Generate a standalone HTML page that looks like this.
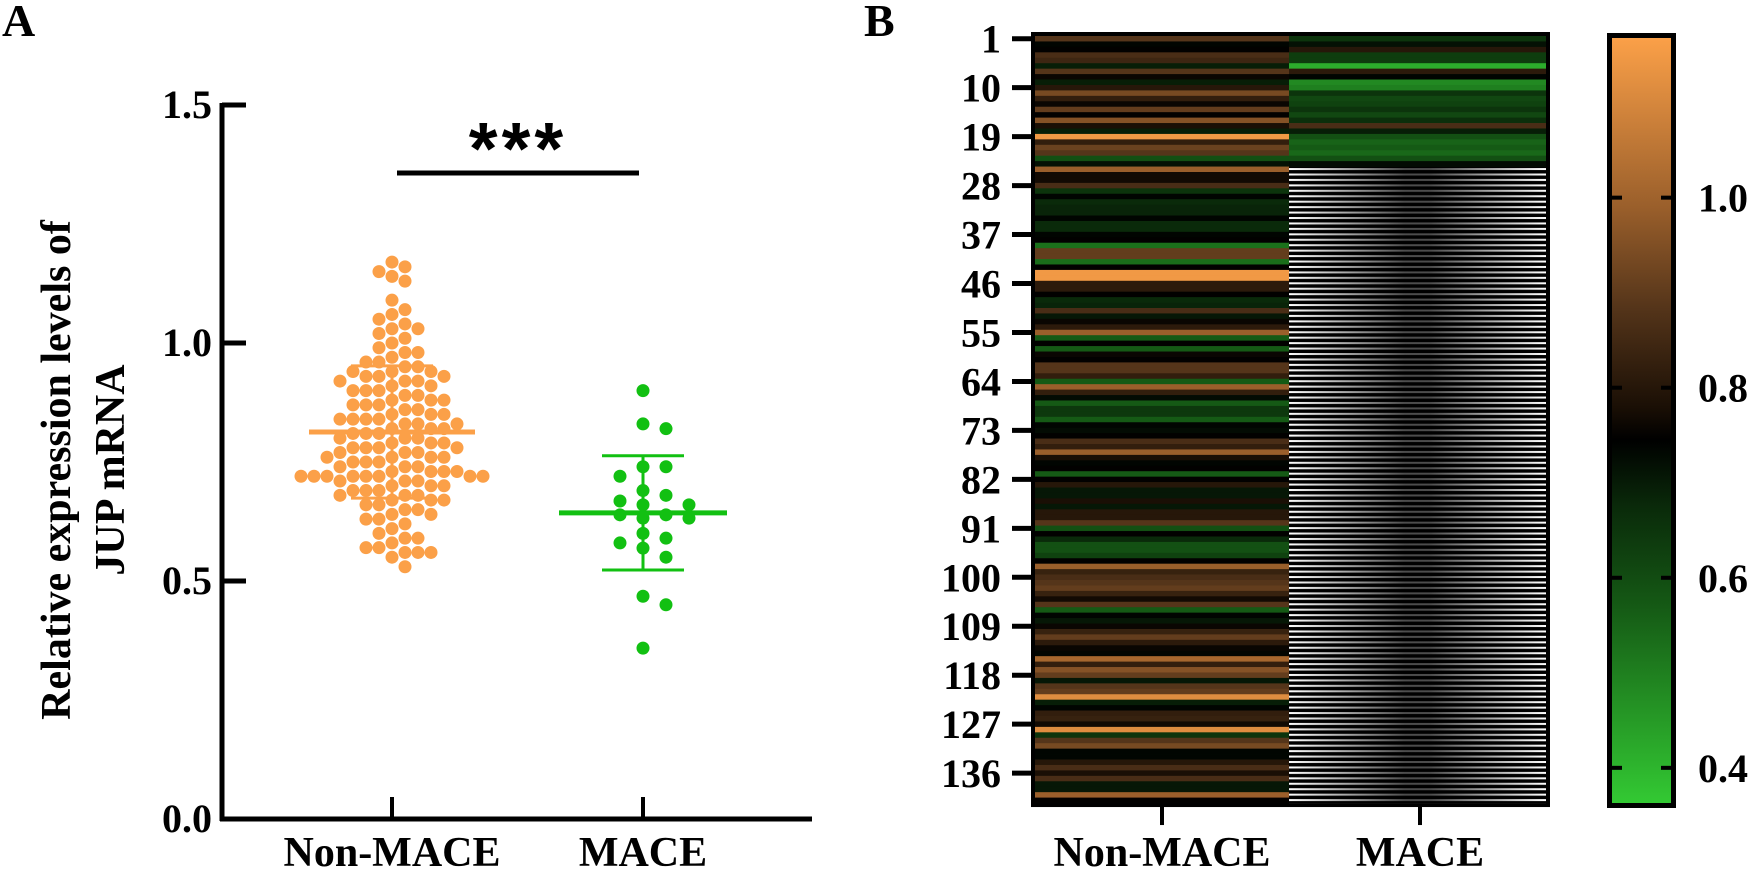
<!DOCTYPE html>
<html><head><meta charset="utf-8"><style>
html,body{margin:0;padding:0;background:#fff;}
svg{display:block;font-family:"Liberation Serif",serif;font-weight:bold;}
</style></head><body>
<svg id="fig" width="1750" height="870" viewBox="0 0 1750 870" xmlns="http://www.w3.org/2000/svg">
<defs>
<linearGradient id="cbar" x1="0" y1="0" x2="0" y2="1">
<stop offset="0" stop-color="#fba048"/>
<stop offset="0.221" stop-color="#9a5f2b"/>
<stop offset="0.352" stop-color="#55351a"/>
<stop offset="0.483" stop-color="#1a0f05"/>
<stop offset="0.525" stop-color="#000000"/>
<stop offset="0.613" stop-color="#0a2a0a"/>
<stop offset="0.744" stop-color="#155a15"/>
<stop offset="1" stop-color="#33c933"/>
</linearGradient>
<pattern id="stripes" x="0" y="36" width="10" height="5.44" patternUnits="userSpaceOnUse">
<rect x="0" y="0" width="10" height="5.44" fill="#000"/>
<rect x="0" y="1.5" width="10" height="2" fill="#fff"/>
</pattern>
<linearGradient id="shade" x1="0" y1="0" x2="1" y2="0">
<stop offset="0" stop-color="#000" stop-opacity="0"/>
<stop offset="0.45" stop-color="#000" stop-opacity="0.7"/>
<stop offset="0.55" stop-color="#000" stop-opacity="0.7"/>
<stop offset="1" stop-color="#000" stop-opacity="0"/>
</linearGradient>
</defs>
<g id="panelA"></g>
<g id="panelB"></g>
</svg>
<script>
// ---------- Panel A data ----------
const groupsA = ["Non-MACE", "MACE"];
const nonMaceValues = [1.17,1.16,1.15,1.14,1.13,1.09,1.07,1.06,1.05,1.04,1.03,1.03,1.02,1.01,1.00,0.99,0.98,0.98,0.97,0.96,0.96,0.95,0.95,0.94,0.94,0.94,0.93,0.93,0.93,0.92,0.92,0.92,0.91,0.91,0.90,0.90,0.90,0.89,0.89,0.88,0.88,0.88,0.87,0.87,0.87,0.86,0.86,0.85,0.85,0.85,0.84,0.84,0.84,0.84,0.83,0.83,0.83,0.82,0.82,0.82,0.81,0.81,0.81,0.80,0.80,0.80,0.79,0.79,0.79,0.78,0.78,0.78,0.78,0.77,0.77,0.77,0.76,0.76,0.76,0.76,0.75,0.75,0.75,0.74,0.74,0.74,0.73,0.73,0.73,0.73,0.72,0.72,0.72,0.72,0.72,0.72,0.72,0.72,0.71,0.71,0.71,0.70,0.70,0.70,0.69,0.69,0.69,0.68,0.68,0.68,0.67,0.67,0.67,0.66,0.66,0.65,0.65,0.64,0.64,0.63,0.63,0.62,0.61,0.60,0.59,0.59,0.58,0.57,0.57,0.56,0.56,0.56,0.55,0.53];
const maceValues = [0.90,0.83,0.82,0.74,0.74,0.72,0.69,0.68,0.668,0.66,0.66,0.639,0.639,0.632,0.632,0.60,0.59,0.58,0.569,0.55,0.468,0.45,0.359];
const meanValues = [0.813, 0.643];
const sdLow = [0.674, 0.523];
const sdHigh = [0.952, 0.763];
const yTicksA = [0.0, 0.5, 1.0, 1.5];
const yTickLabelsA = ["0.0", "0.5", "1.0", "1.5"];

// ---------- Panel B data ----------
const heatColumns = ["Non-MACE", "MACE"];
const heatNonMace = [0.9,0.76,0.77,0.88,0.86,0.72,0.9,0.78,0.72,0.82,0.95,0.84,0.78,0.92,0.77,0.97,0.8,0.72,1.15,0.84,0.93,0.9,0.62,0.74,1.0,0.79,0.79,0.88,0.68,0.76,0.7,0.71,0.71,0.76,0.7,0.7,0.76,0.77,0.55,0.92,0.92,0.56,0.77,1.15,1.15,0.83,0.83,0.77,0.7,0.71,0.88,0.73,0.78,0.83,1.0,0.6,0.77,0.6,0.78,0.77,0.9,0.9,0.84,0.6,1.0,0.84,0.75,0.6,0.67,0.67,0.6,0.76,0.75,0.77,0.88,0.84,1.0,0.8,0.76,0.77,0.6,0.77,0.82,0.73,0.73,0.8,0.73,0.82,0.82,0.9,0.62,0.77,0.7,0.62,0.62,0.65,0.77,1.0,0.85,0.88,0.9,0.92,0.85,0.79,0.9,0.6,0.76,0.73,0.78,0.85,0.92,0.83,0.78,0.76,1.02,0.84,0.97,0.92,0.73,0.9,0.92,1.12,0.72,0.76,0.84,0.85,0.79,1.12,0.68,0.9,0.95,0.76,0.76,0.82,0.88,0.8,0.88,0.73,0.73,1.0,0.77];
const heatMace = [0.68,0.74,0.82,0.66,0.66,0.42,0.83,0.76,0.50,0.52,0.68,0.64,0.65,0.68,0.64,0.69,0.88,0.72,0.62,0.58,0.60,0.57,0.62,0.75];
const heatRowTicks = [1,10,19,28,37,46,55,64,73,82,91,100,109,118,127,136];
const colorbarTicks = [0.4, 0.6, 0.8, 1.0];
const colorbarTickLabels = ["0.4", "0.6", "0.8", "1.0"];
const colorStops = [0.363, 0.6, 0.7, 0.768, 0.8, 0.9, 1.0, 1.168];
const colorStopHex = ["#33c933","#155a15","#0a2a0a","#000000","#1a0f05","#55351a","#9a5f2b","#fba048"];

const NS = "http://www.w3.org/2000/svg";
function mk(tag, attrs, parent) {
  const e = document.createElementNS(NS, tag);
  for (const k in attrs) e.setAttribute(k, attrs[k]);
  parent.appendChild(e);
  return e;
}

// ---------- Panel A ----------
const A = document.getElementById("panelA");
const yA = v => 819 - v * 476;
const xA = i => [392, 643][i];

let t = mk("text", {x: 2, y: 36, "font-size": 46}, A);
t.textContent = "A";



let yt = mk("text", {transform: "translate(70,470) rotate(-90)", "text-anchor": "middle", "font-size": 42}, A);
yt.textContent = "Relative expression levels of";


let yt2 = mk("text", {transform: "translate(124,470) rotate(-90)", "text-anchor": "middle", "font-size": 42}, A);
yt2.textContent = "JUP mRNA";



let ax = mk("line", {x1: 222, y1: yA(1.5) - 2, x2: 222, y2: 821, stroke: "#000", "stroke-width": 5}, A);


let xax = mk("line", {x1: 220, y1: 819, x2: 812, y2: 819, stroke: "#000", "stroke-width": 5}, A);



yTicksA.forEach((v, i) => {
  let tk = mk("line", {x1: 222, y1: yA(v), x2: 246, y2: yA(v), stroke: "#000", "stroke-width": 5}, A);
  
  
  let lb = mk("text", {x: 212, y: yA(v) + 13, "text-anchor": "end", "font-size": 40}, A);
  lb.textContent = yTickLabelsA[i];
  
  
});
groupsA.forEach((g, i) => {
  let tk = mk("line", {x1: xA(i), y1: 797, x2: xA(i), y2: 819, stroke: "#000", "stroke-width": 4}, A);
  
  
  let lb = mk("text", {x: xA(i), y: 866, "text-anchor": "middle", "font-size": 42}, A);
  lb.textContent = g;
  
  
});

function swarm(vals, cx, r, step) {
  const placed = [];
  const sorted = vals.slice().sort((a, b) => b - a);
  sorted.forEach(v => {
    const y = yA(v);
    for (let k = 0; k < 40; k++) {
      const off = k === 0 ? 0 : (k % 2 ? 1 : -1) * Math.ceil(k / 2) * step;
      const x = cx + off;
      if (placed.every(p => (p.x - x) ** 2 + (p.y - y) ** 2 >= (2 * r - 0.5) ** 2)) {
        placed.push({x, y}); break;
      }
    }
  });
  return placed;
}
const colorsA = ["#fba048", "#12c012"];
[nonMaceValues, maceValues].forEach((vals, gi) => {
  const pts = swarm(vals, xA(gi), 6.5, gi === 0 ? 13 : 23);
  pts.forEach(p => {
    let c = mk("circle", {cx: p.x, cy: p.y, r: 6.5, fill: colorsA[gi]}, A);
    
    
  });
});
[0, 1].forEach(gi => {
  const cx = xA(gi), col = colorsA[gi];
  const mw = gi === 0 ? 83 : 84, cw = 41;
  let m = mk("line", {x1: cx - mw, y1: yA(meanValues[gi]), x2: cx + mw, y2: yA(meanValues[gi]), stroke: col, "stroke-width": 5}, A);
  
  
  let s = mk("line", {x1: cx, y1: yA(sdHigh[gi]), x2: cx, y2: yA(sdLow[gi]), stroke: col, "stroke-width": 3}, A);
  
  
  [sdHigh[gi], sdLow[gi]].forEach(v => {
    let cp = mk("line", {x1: cx - cw, y1: yA(v), x2: cx + cw, y2: yA(v), stroke: col, "stroke-width": 3}, A);
    
    
  });
});
let sb = mk("line", {x1: 397, y1: 173, x2: 639, y2: 173, stroke: "#000", "stroke-width": 5}, A);


let st = mk("text", {x: 518, y: 174, "text-anchor": "middle", "font-size": 74, "letter-spacing": 4, "font-family": "Liberation Sans, sans-serif"}, A);
st.textContent = "***";



// ---------- Panel B ----------
const B = document.getElementById("panelB");
const hx0 = 1035, hx1 = 1289, hx2 = 1546, hTop = 36, rowH = 5.44;
const rowY = k => hTop + (k - 1) * rowH;
function hexToRgb(h) { return [1, 3, 5].map(i => parseInt(h.substr(i, 2), 16)); }
function colorOf(v) {
  if (v <= colorStops[0]) return colorStopHex[0];
  for (let i = 1; i < colorStops.length; i++) {
    if (v <= colorStops[i]) {
      const f = (v - colorStops[i - 1]) / (colorStops[i] - colorStops[i - 1]);
      const a = hexToRgb(colorStopHex[i - 1]), b = hexToRgb(colorStopHex[i]);
      return "rgb(" + a.map((c, j) => Math.round(c + (b[j] - c) * f)).join(",") + ")";
    }
  }
  return colorStopHex[colorStopHex.length - 1];
}
let lbB = mk("text", {x: 864, y: 36, "font-size": 46}, B);
lbB.textContent = "B";



const nRows = heatNonMace.length;
let miss = mk("rect", {x: hx1, y: rowY(heatMace.length + 1), width: hx2 - hx1, height: rowY(nRows + 1) - rowY(heatMace.length + 1), fill: "url(#stripes)"}, B);


let shd = mk("rect", {x: hx1, y: rowY(heatMace.length + 1), width: hx2 - hx1, height: rowY(nRows + 1) - rowY(heatMace.length + 1), fill: "url(#shade)"}, B);



heatNonMace.forEach((v, i) => {
  let r = mk("rect", {x: hx0, y: rowY(i + 1), width: hx1 - hx0, height: rowH + 0.4, fill: colorOf(v)}, B);
  
  
});
heatMace.forEach((v, i) => {
  let r = mk("rect", {x: hx1, y: rowY(i + 1), width: hx2 - hx1, height: rowH + 0.4, fill: colorOf(v)}, B);
  
  
});
let hb = mk("rect", {x: hx0 - 2, y: hTop - 2, width: hx2 - hx0 + 4, height: rowY(nRows + 1) - hTop + 4, fill: "none", stroke: "#000", "stroke-width": 4}, B);



heatRowTicks.forEach(k => {
  const y = rowY(k) + rowH / 2;
  let tk = mk("line", {x1: 1012, y1: y, x2: hx0, y2: y, stroke: "#000", "stroke-width": 5}, B);
  
  
  let lb = mk("text", {x: 1001, y: y + 14, "text-anchor": "end", "font-size": 40}, B);
  lb.textContent = k;
  
  
});
heatColumns.forEach((c, i) => {
  const x = i === 0 ? 1162 : 1420;
  const yb = rowY(nRows + 1) + 2;
  let tk = mk("line", {x1: x, y1: yb, x2: x, y2: yb + 20, stroke: "#000", "stroke-width": 4}, B);
  
  
  let lb = mk("text", {x: x, y: 866, "text-anchor": "middle", "font-size": 42}, B);
  lb.textContent = c;
  
  
});

const cbTop = 38, cbBot = 803, cbx0 = 1612, cbx1 = 1671;
const yCB = v => cbTop + (colorStops[colorStops.length - 1] - v) / (colorStops[colorStops.length - 1] - colorStops[0]) * (cbBot - cbTop);
let cb = mk("rect", {x: cbx0, y: cbTop, width: cbx1 - cbx0, height: cbBot - cbTop, fill: "url(#cbar)"}, B);


let cbb = mk("rect", {x: 1609.5, y: 35.5, width: 64, height: 770, fill: "none", stroke: "#000", "stroke-width": 5}, B);


colorbarTicks.forEach((v, i) => {
  const y = yCB(v);
  let a = mk("line", {x1: cbx0, y1: y, x2: cbx0 + 10, y2: y, stroke: "#000", "stroke-width": 4}, B);
  
  
  let b = mk("line", {x1: cbx1 - 10, y1: y, x2: cbx1, y2: y, stroke: "#000", "stroke-width": 4}, B);
  
  
  let lb = mk("text", {x: 1698, y: y + 14, "font-size": 40}, B);
  lb.textContent = colorbarTickLabels[i];
  
  
});
</script>
</body></html>
